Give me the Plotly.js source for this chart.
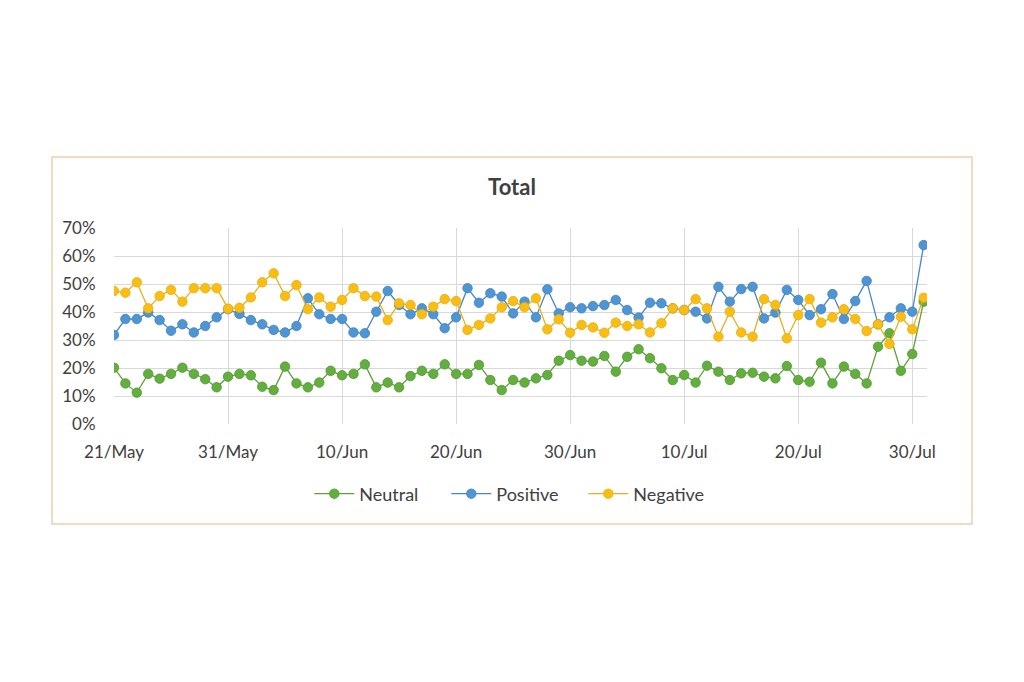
<!DOCTYPE html>
<html>
<head>
<meta charset="utf-8">
<script src="https://cdn.plot.ly/plotly-3.0.1.min.js"></script>
<style>
  html, body { margin: 0; padding: 0; background: #ffffff; }
  #chart { width: 1024px; height: 682px; }
</style>
</head>
<body>
<div id="chart"></div>
<script>
// ---- data (daily, 21 May .. 31 Jul) ----
const startDate = '2020-05-21';
const dayCount = 72;

const neutral = [20.1, 14.5, 11.2, 17.9, 16.2, 17.9, 20.1, 17.9, 16.0, 13.1,
                 16.9, 17.9, 17.4, 13.3, 12.1, 20.5, 14.5, 13.1, 14.8, 19.0,
                 17.4, 17.9, 21.3, 13.1, 14.8, 13.1, 17.1, 19.0, 17.9, 21.3,
                 17.9, 17.9, 21.1, 15.7, 12.1, 15.7, 14.8, 16.3, 17.5, 22.6,
                 24.6, 22.6, 22.3, 24.3, 18.7, 24.0, 26.7, 23.5, 19.9, 15.7,
                 17.5, 14.8, 20.8, 18.7, 15.7, 18.1, 18.3, 16.9, 16.3, 20.7,
                 15.7, 15.1, 21.9, 14.5, 20.5, 17.9, 14.5, 27.6, 32.4, 19.0,
                 25.0, 43.7];

const positive = [31.8, 37.5, 37.5, 39.8, 37.1, 33.3, 35.6, 32.7, 35.0, 38.1,
                  41.0, 39.3, 37.1, 35.6, 33.6, 32.7, 35.0, 44.9, 39.2, 37.5,
                  37.5, 32.7, 32.4, 40.1, 47.5, 42.5, 39.2, 41.3, 39.2, 34.2,
                  38.1, 48.5, 43.3, 46.7, 45.5, 39.5, 43.7, 38.1, 48.1, 39.5,
                  41.7, 41.3, 42.1, 42.5, 44.3, 40.7, 38.0, 43.3, 43.1, 41.3,
                  40.7, 40.1, 37.7, 49.0, 43.7, 48.2, 49.0, 37.7, 39.8, 47.9,
                  44.3, 38.9, 41.0, 46.4, 37.5, 43.9, 51.1, 35.6, 38.1, 41.3,
                  40.1, 63.9];

const negative = [47.5, 46.9, 50.6, 41.3, 45.7, 47.9, 43.7, 48.5, 48.5, 48.5,
                  41.2, 41.5, 45.2, 50.6, 53.8, 45.7, 49.6, 41.0, 45.2, 41.9,
                  44.3, 48.5, 45.7, 45.5, 37.1, 43.1, 42.5, 39.2, 41.9, 44.6,
                  43.9, 33.6, 35.4, 37.7, 41.7, 43.9, 41.7, 44.9, 33.8, 37.4,
                  32.6, 35.4, 34.5, 32.6, 36.2, 35.0, 35.6, 32.7, 36.0, 41.3,
                  40.7, 44.6, 41.3, 31.2, 40.1, 32.7, 31.2, 44.6, 42.5, 30.6,
                  38.9, 44.6, 36.2, 38.1, 41.0, 37.5, 33.2, 35.6, 28.6, 38.3,
                  33.8, 45.1];

const seriesNames = ['Neutral', 'Positive', 'Negative'];
const yTickVals = [0, 0.1, 0.2, 0.3, 0.4, 0.5, 0.6, 0.7];

// ---- build dates ----
const dates = [];
const base = new Date(startDate + 'T00:00:00Z');
for (let i = 0; i < dayCount; i++) {
  const d = new Date(base.getTime() + i * 86400000);
  dates.push(d.toISOString().slice(0, 10));
}

const colors = ['#63AE3E', '#4F95D3', '#F9BD14'];
const lineColors = ['#5FA13E', '#4A86C0', '#E5B020'];
const markerEdge = ['#4E9A2F', '#3F84C2', '#E8AE0C'];
const values = [neutral, positive, negative];

const traces = values.map((arr, k) => ({
  type: 'scatter',
  mode: 'lines+markers',
  name: seriesNames[k],
  x: dates,
  y: arr.map(v => v / 100),
  line: { color: lineColors[k], width: 1.3 },
  marker: { color: colors[k], size: 9.5, line: { color: markerEdge[k], width: 0.8 } },
  hoverinfo: 'skip'
}));

const fontFam = 'Lato, "Open Sans", "DejaVu Sans", sans-serif';
const textCol = '#404040';

const layout = {
  width: 1024,
  height: 682,
  paper_bgcolor: '#ffffff',
  plot_bgcolor: '#ffffff',
  margin: { l: 114, r: 97, t: 228, b: 258, pad: 0 },
  showlegend: true,
  title: {
    text: '<b>Total</b>',
    font: { family: fontFam, size: 22, color: textCol },
    x: 0.5, xref: 'container', xanchor: 'center',
    y: 1 - 187 / 682, yref: 'container', yanchor: 'middle'
  },
  xaxis: {
    type: 'date',
    range: ['2020-05-21', '2020-07-31 07:00'],
    tick0: '2020-05-21',
    dtick: 10 * 86400000,
    tickformat: '%d/%b',
    showgrid: true,
    gridcolor: '#D9D9D9',
    gridwidth: 1,
    zeroline: false,
    showline: false,
    ticks: 'outside',
    ticklen: 13,
    tickcolor: 'rgba(0,0,0,0)',
    tickfont: { family: fontFam, size: 17, color: textCol },
    fixedrange: true
  },
  yaxis: {
    range: [0, 0.7],
    tickvals: yTickVals,
    tickformat: '.0%',
    showgrid: true,
    gridcolor: '#D9D9D9',
    gridwidth: 1,
    zeroline: false,
    showline: false,
    ticks: 'outside',
    ticklen: 14,
    tickcolor: 'rgba(0,0,0,0)',
    tickfont: { family: fontFam, size: 17, color: textCol },
    fixedrange: true
  },
  legend: {
    orientation: 'h',
    x: 0.493, xanchor: 'center',
    y: (424 - 494) / 196, yanchor: 'middle',
    font: { family: fontFam, size: 18, color: textCol },
    bgcolor: 'rgba(0,0,0,0)',
    itemwidth: 40,
    entrywidth: 82,
    entrywidthmode: 'pixels'
  },
  shapes: [{
    type: 'rect',
    xref: 'paper', yref: 'paper',
    x0: (52 - 114) / 813, x1: (972 - 114) / 813,
    y0: (424 - 524) / 196, y1: (424 - 157) / 196,
    line: { color: '#F0CFAE', width: 1.5 },
    fillcolor: 'rgba(0,0,0,0)',
    layer: 'below'
  }],
  hovermode: false
};

Plotly.newPlot('chart', traces, layout, { staticPlot: true, displayModeBar: false });
</script>
</body>
</html>
